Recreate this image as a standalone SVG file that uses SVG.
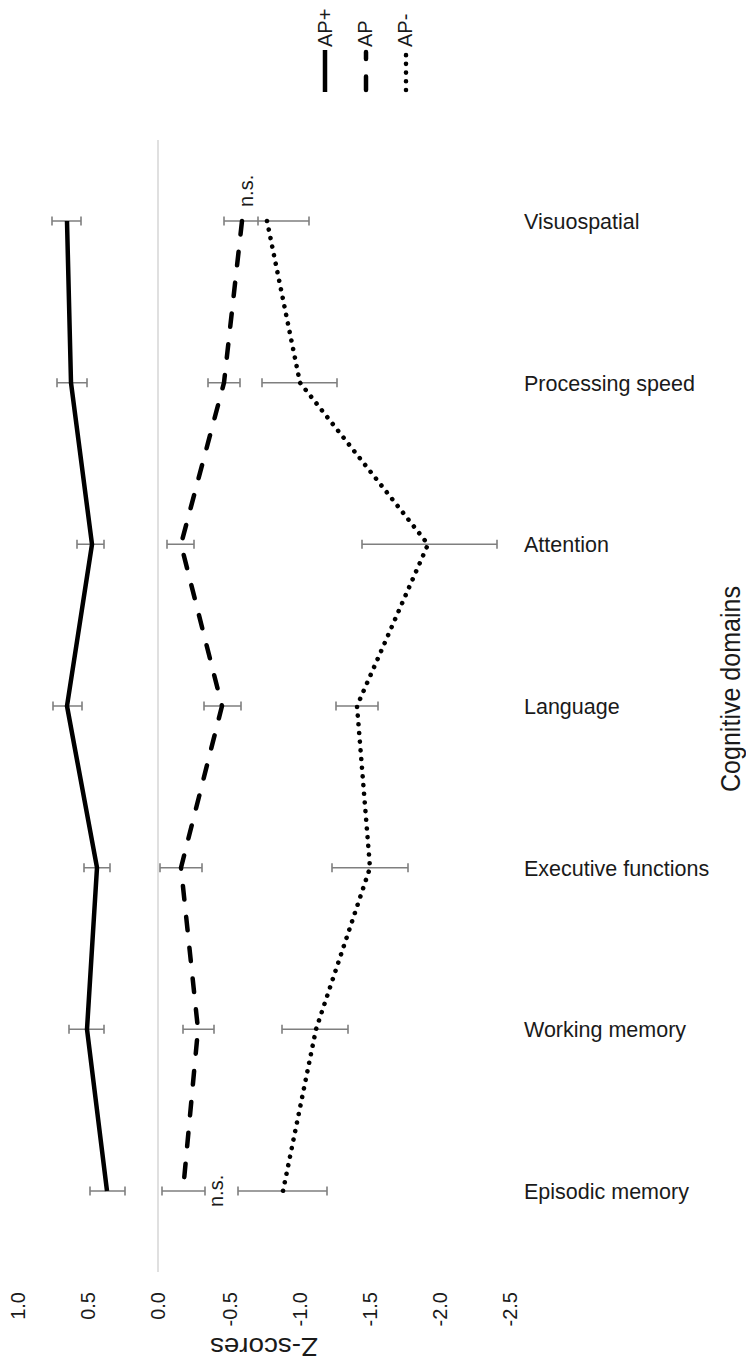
<svg xmlns="http://www.w3.org/2000/svg" width="746" height="1367" viewBox="0 0 746 1367">
  <style>
    text { font-family: "Liberation Sans", Arial, sans-serif; fill: #1a1a1a; }
    .cat { font-size: 21.5px; }
    .tick { font-size: 20px; }
    .leg { font-size: 20px; }
    .ns { font-size: 20px; }
    .err { stroke: #7f7f7f; stroke-width: 1.6; fill: none; }
    .solid { stroke: #000; stroke-width: 4.5; fill: none; stroke-linejoin: round; }
    .dashed { stroke: #000; stroke-width: 4.5; fill: none; stroke-dasharray: 13.5 17.5; stroke-linecap: round; stroke-linejoin: round; }
    .dotted { stroke: #000; stroke-width: 4.6; fill: none; stroke-dasharray: 0.01 8.7; stroke-linecap: round; stroke-linejoin: round; }
  </style>
  <defs>
    <path id="cap" d="M0,-4.5 V4.5" />
  </defs>
  <rect x="0" y="0" width="746" height="1367" fill="#fff"/>

  <g id="axis">
    <line x1="158" y1="140" x2="158" y2="1272" stroke="#d9d9d9" stroke-width="1.6"/>
    <g id="tick-labels" class="tick">
      <text class="tick" text-anchor="end" transform="translate(24.7,1292) rotate(-90)">1.0</text>
      <text class="tick" text-anchor="end" transform="translate(94.7,1292) rotate(-90)">0.5</text>
      <text class="tick" text-anchor="end" transform="translate(165.2,1292) rotate(-90)">0.0</text>
      <text class="tick" text-anchor="end" transform="translate(237.2,1292) rotate(-90)">-0.5</text>
      <text class="tick" text-anchor="end" transform="translate(307.2,1292) rotate(-90)">-1.0</text>
      <text class="tick" text-anchor="end" transform="translate(377.2,1292) rotate(-90)">-1.5</text>
      <text class="tick" text-anchor="end" transform="translate(447.2,1292) rotate(-90)">-2.0</text>
      <text class="tick" text-anchor="end" transform="translate(517.2,1292) rotate(-90)">-2.5</text>
    </g>
    <text id="z-title" font-size="26" text-anchor="start" textLength="108" lengthAdjust="spacingAndGlyphs" transform="translate(318,1338) rotate(180)">Z-scores</text>
    <text id="domain-title" font-size="27" text-anchor="middle" textLength="206" lengthAdjust="spacingAndGlyphs" style="font-family:'Liberation Sans Narrow','Liberation Sans',Arial,sans-serif" transform="translate(740,689) rotate(-90)">Cognitive domains</text>
  </g>

  <g id="category-labels">
    <text class="cat" x="524" y="229">Visuospatial</text>
    <text class="cat" x="524" y="390.7">Processing speed</text>
    <text class="cat" x="524" y="552.3">Attention</text>
    <text class="cat" x="524" y="714">Language</text>
    <text class="cat" x="524" y="875.7">Executive functions</text>
    <text class="cat" x="524" y="1037.3">Working memory</text>
    <text class="cat" x="524" y="1199">Episodic memory</text>
  </g>

  <g id="legend">
    <g id="legend-applus">
      <line x1="325" y1="92" x2="325" y2="50" stroke="#000" stroke-width="4.5"/>
      <text class="leg" text-anchor="start" transform="translate(332,47) rotate(-90)">AP+</text>
    </g>
    <g id="legend-ap">
      <line class="dashed" x1="366" y1="90" x2="366" y2="52"/>
      <text class="leg" text-anchor="start" transform="translate(372,47) rotate(-90)">AP</text>
    </g>
    <g id="legend-apminus">
      <line class="dotted" x1="406" y1="90" x2="406" y2="52"/>
      <text class="leg" text-anchor="start" transform="translate(412,47) rotate(-90)">AP-</text>
    </g>
  </g>

  <g id="error-bars">
    <!-- AP+ -->
    <path class="err" d="M52,221H81 M52,216.5V225.5 M81,216.5V225.5"/>
    <path class="err" d="M57,382.7H87 M57,378.2V387.2 M87,378.2V387.2"/>
    <path class="err" d="M77,544.3H104 M77,539.8V548.8 M104,539.8V548.8"/>
    <path class="err" d="M53,706H82 M53,701.5V710.5 M82,701.5V710.5"/>
    <path class="err" d="M84,867.7H110 M84,863.2V872.2 M110,863.2V872.2"/>
    <path class="err" d="M69,1029.3H104 M69,1024.8V1033.8 M104,1024.8V1033.8"/>
    <path class="err" d="M90,1191H125 M90,1186.5V1195.5 M125,1186.5V1195.5"/>
    <!-- AP -->
    <path class="err" d="M224,221H258 M224,216.5V225.5 M258,216.5V225.5"/>
    <path class="err" d="M208,382.7H240 M208,378.2V387.2 M240,378.2V387.2"/>
    <path class="err" d="M167,544.3H194 M167,539.8V548.8 M194,539.8V548.8"/>
    <path class="err" d="M204,706H241 M204,701.5V710.5 M241,701.5V710.5"/>
    <path class="err" d="M160,867.7H202 M160,863.2V872.2 M202,863.2V872.2"/>
    <path class="err" d="M183,1029.3H214 M183,1024.8V1033.8 M214,1024.8V1033.8"/>
    <path class="err" d="M162,1191H205 M162,1186.5V1195.5 M205,1186.5V1195.5"/>
    <!-- AP- -->
    <path class="err" d="M258,221H309 M309,216.5V225.5"/>
    <path class="err" d="M262,382.7H337 M262,378.2V387.2 M337,378.2V387.2"/>
    <path class="err" d="M362,544.3H497 M362,539.8V548.8 M497,539.8V548.8"/>
    <path class="err" d="M336,706H378 M336,701.5V710.5 M378,701.5V710.5"/>
    <path class="err" d="M332,867.7H408 M332,863.2V872.2 M408,863.2V872.2"/>
    <path class="err" d="M282,1029.3H348 M282,1024.8V1033.8 M348,1024.8V1033.8"/>
    <path class="err" d="M238,1191H327 M238,1186.5V1195.5 M327,1186.5V1195.5"/>
  </g>

  <g id="series">
    <polyline id="series-applus" class="solid" points="67,221 71,382.7 92,544.3 67,706 97,867.7 87,1029.3 107,1191"/>
    <polyline id="series-ap" class="dashed" points="242,221 224,382.7 181,544.3 222,706 181,867.7 198,1029.3 183,1191"/>
    <polyline id="series-apminus" class="dotted" points="267,221 300,382.7 428,544.3 357,706 370,867.7 316,1029.3 283,1191"/>
  </g>

  <g id="significance">
    <text class="ns" text-anchor="start" transform="translate(253,207) rotate(-90)">n.s.</text>
    <text class="ns" text-anchor="start" transform="translate(223,1207) rotate(-90)">n.s.</text>
  </g>
</svg>
